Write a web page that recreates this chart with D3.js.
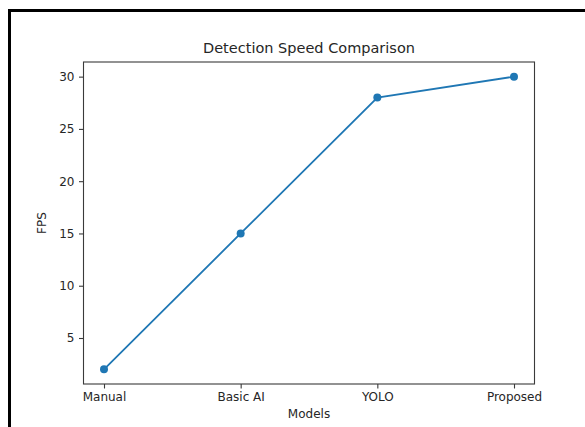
<!DOCTYPE html>
<html>
<head>
<meta charset="utf-8">
<script src="https://cdn.jsdelivr.net/npm/d3@7"></script>
<style>
html,body{margin:0;padding:0;background:#fff;}
svg{display:block;font-family:"DejaVu Sans",sans-serif;}
</style>
</head>
<body>
<svg id="chart" width="585" height="427"></svg>
<script>
const categories = ["Manual", "Basic AI", "YOLO", "Proposed"];
const fps = [2, 15, 28, 30];
const yTicks = [5, 10, 15, 20, 25, 30];
const titleText = "Detection Speed Comparison";
const xLabel = "Models";
const yLabel = "FPS";

const svg = d3.select("#chart");
const W = 585, H = 427;
const plot = {left: 83.5, right: 534.5, top: 62, bottom: 384};

// outer frame (left and top only visible)
svg.append("line").attr("x1", 9.5).attr("x2", 9.5).attr("y1", 9).attr("y2", H).attr("stroke", "#000").attr("stroke-width", 3);
svg.append("line").attr("x1", 8).attr("x2", W).attr("y1", 10.5).attr("y2", 10.5).attr("stroke", "#000").attr("stroke-width", 3);

const idx = d3.range(categories.length);
const x = d3.scaleLinear().domain([-0.15, categories.length - 1 + 0.15]).range([plot.left, plot.right]);
const yMin = d3.min(fps), yMax = d3.max(fps), pad = (yMax - yMin) * 0.05;
const y = d3.scaleLinear().domain([yMin - pad, yMax + pad]).range([plot.bottom, plot.top]);

const textColor = "#262626";
const spineColor = "#3a3a3a";

// x axis
const xAxis = d3.axisBottom(x).tickValues(idx).tickFormat(i => categories[i]).tickSize(4.5).tickPadding(3.5);
const gx = svg.append("g").attr("transform", `translate(0,${plot.bottom})`).call(xAxis);
gx.select(".domain").remove();
gx.selectAll(".tick line").attr("stroke", spineColor).attr("stroke-width", 1.1);
gx.selectAll(".tick text").attr("fill", textColor).style("font-size", "12px").style("font-family", "DejaVu Sans");

// y axis
const yAxis = d3.axisLeft(y).tickValues(yTicks).tickSize(4.5).tickPadding(4.5);
const gy = svg.append("g").attr("transform", `translate(${plot.left},0)`).call(yAxis);
gy.select(".domain").remove();
gy.selectAll(".tick line").attr("stroke", spineColor).attr("stroke-width", 1.1);
gy.selectAll(".tick text").attr("fill", textColor).style("font-size", "12px").style("font-family", "DejaVu Sans");

// spines
svg.append("rect").attr("x", plot.left).attr("y", plot.top)
  .attr("width", plot.right - plot.left).attr("height", plot.bottom - plot.top)
  .attr("fill", "none").attr("stroke", spineColor).attr("stroke-width", 1.1);

// line
const line = d3.line().x((d, i) => x(i)).y(d => y(d));
svg.append("path").datum(fps).attr("d", line).attr("fill", "none")
  .attr("stroke", "#1f77b4").attr("stroke-width", 1.8);
svg.selectAll("circle.pt").data(fps).enter().append("circle").attr("class", "pt")
  .attr("cx", (d, i) => x(i)).attr("cy", d => y(d)).attr("r", 4).attr("fill", "#1f77b4");

// title and labels
svg.append("text").attr("x", (plot.left + plot.right) / 2).attr("y", 52.5)
  .attr("text-anchor", "middle").attr("fill", textColor).style("font-size", "14.5px").text(titleText);
svg.append("text").attr("x", (plot.left + plot.right) / 2).attr("y", 418)
  .attr("text-anchor", "middle").attr("fill", textColor).style("font-size", "12px").text(xLabel);
svg.append("text").attr("transform", `translate(45.5,${(plot.top + plot.bottom) / 2}) rotate(-90)`)
  .attr("text-anchor", "middle").attr("fill", textColor).style("font-size", "12px").text(yLabel);
</script>
</body>
</html>
